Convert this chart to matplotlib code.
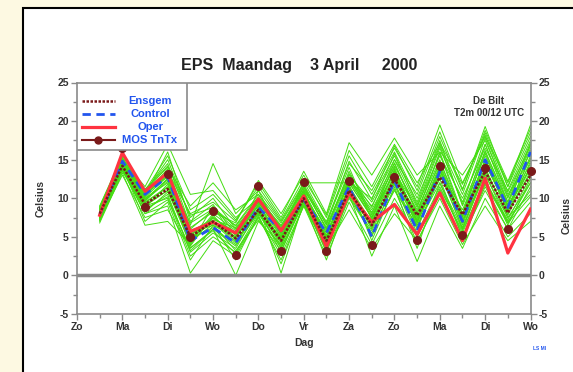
import matplotlib
matplotlib.use("Agg")
import matplotlib.pyplot as plt
from matplotlib.patches import Rectangle
from matplotlib.lines import Line2D

# time in days (12h steps)
t = [0.5, 1.0, 1.5, 2.0, 2.5, 3.0, 3.5, 4.0, 4.5, 5.0,
     5.5, 6.0, 6.5, 7.0, 7.5, 8.0, 8.5, 9.0, 9.5, 10.0]

day_labels = ["Zo", "Ma", "Di", "Wo", "Do", "Vr", "Za", "Zo", "Ma", "Di", "Wo"]

oper = [7.8, 15.9, 10.9, 13.3, 5.7, 6.9, 5.5, 9.9, 5.8, 10.3,
        3.7, 10.7, 6.9, 9.2, 5.3, 10.7, 4.5, 12.6, 2.9, 8.6]
control = [7.8, 14.8, 10.5, 12.8, 4.5, 6.2, 4.2, 8.8, 5.8, 9.8,
           5.5, 11.5, 5.0, 12.3, 5.8, 13.5, 7.0, 15.0, 8.8, 16.0]
ensgem = [8.0, 14.2, 9.2, 11.2, 5.0, 7.0, 4.8, 8.5, 4.5, 10.0,
          4.5, 11.0, 6.5, 12.5, 7.8, 12.7, 7.9, 13.5, 8.1, 13.0]

mos_t = [1.0, 1.5, 2.0, 2.5, 3.0, 3.5, 4.0, 4.5, 5.0, 5.5,
         6.0, 6.5, 7.0, 7.5, 8.0, 8.5, 9.0, 9.5, 10.0]
mos = [16.5, 8.9, 13.2, 5.0, 8.4, 2.7, 11.6, 3.2, 12.1, 3.2,
       12.2, 3.9, 12.8, 4.6, 14.2, 5.3, 13.9, 6.0, 13.5]

# ensemble members (read approximately)
members = [
    [7.5, 14.5, 10.5, 13.0, 5.5, 6.5, 5.0, 9.5, 5.5, 10.5, 4.0, 11.0, 7.0, 12.0, 6.0, 13.0, 7.5, 15.0, 9.0, 14.0],
    [8.0, 15.0, 11.5, 17.0, 10.5, 11.0, 7.5, 10.0, 6.5, 11.0, 5.0, 12.5, 9.0, 14.5, 8.0, 16.0, 8.0, 17.0, 10.0, 16.5],
    [7.0, 13.5, 9.0, 10.0, 2.5, 5.0, 3.0, 8.0, 3.5, 9.5, 3.0, 10.0, 5.5, 11.0, 6.5, 12.5, 5.0, 12.0, 7.0, 11.0],
    [8.5, 14.0, 8.0, 9.0, 0.3, 4.5, 2.5, 7.5, 2.0, 9.0, 2.5, 9.5, 4.0, 10.0, 5.0, 11.0, 4.5, 11.5, 6.0, 9.5],
    [9.0, 15.5, 11.0, 14.5, 6.5, 14.5, 8.0, 11.0, 7.0, 12.0, 12.0, 12.0, 10.0, 15.5, 9.5, 17.5, 9.0, 16.0, 9.5, 17.0],
    [7.2, 13.0, 7.5, 8.5, 3.5, 6.0, 0.0, 7.0, 4.0, 10.0, 4.5, 11.5, 6.0, 13.0, 7.0, 14.0, 6.5, 14.5, 8.5, 15.5],
    [8.2, 14.8, 10.0, 12.0, 4.5, 7.5, 5.5, 9.0, 0.3, 9.5, 2.0, 10.5, 2.5, 9.0, 1.8, 9.0, 3.5, 10.0, 5.0, 8.0],
    [7.8, 14.2, 9.5, 11.5, 6.0, 8.5, 6.5, 10.5, 6.0, 11.5, 6.0, 13.5, 8.0, 15.0, 10.5, 18.0, 11.0, 19.3, 11.5, 19.5],
    [6.8, 13.3, 6.5, 7.0, 4.0, 9.0, 4.5, 8.0, 5.0, 10.5, 5.5, 12.0, 7.5, 13.5, 8.5, 15.0, 7.0, 13.0, 7.5, 12.0],
    [8.8, 15.2, 10.8, 15.0, 7.5, 10.0, 6.0, 9.5, 5.5, 11.0, 7.0, 14.5, 11.0, 16.5, 11.5, 19.5, 12.0, 18.0, 12.0, 18.5],
    [7.6, 14.0, 9.8, 12.5, 5.0, 6.8, 4.2, 8.5, 4.8, 10.2, 3.5, 11.2, 5.0, 12.5, 6.5, 12.0, 6.0, 13.5, 8.0, 13.5],
    [8.4, 14.6, 10.2, 13.5, 8.0, 9.5, 7.0, 12.0, 7.5, 13.5, 8.0, 17.2, 13.0, 17.8, 13.0, 16.0, 13.0, 17.5, 10.5, 15.0],
    [7.4, 13.8, 8.5, 10.5, 3.0, 5.5, 3.5, 8.5, 3.0, 9.8, 5.0, 10.5, 6.5, 12.0, 5.5, 11.5, 5.5, 12.5, 6.5, 12.5],
    [8.6, 14.4, 9.0, 11.0, 5.8, 7.0, 5.0, 9.2, 4.5, 10.0, 4.0, 12.5, 8.5, 14.0, 7.0, 13.5, 8.5, 15.5, 9.0, 14.5],
    [7.9, 15.0, 10.5, 12.8, 4.2, 8.0, 5.8, 10.0, 5.0, 10.8, 5.5, 11.0, 7.0, 13.0, 8.0, 14.5, 7.0, 14.0, 7.5, 10.5],
    [8.1, 14.1, 7.0, 9.5, 2.0, 6.5, 2.0, 7.8, 1.5, 9.2, 3.5, 8.5, 3.5, 8.0, 4.5, 10.0, 4.0, 9.0, 4.5, 7.0],
    [7.7, 14.3, 11.2, 14.0, 9.0, 12.0, 8.5, 10.5, 6.8, 11.8, 6.5, 13.0, 9.5, 15.0, 9.0, 15.5, 10.0, 16.5, 11.0, 17.5],
    [8.3, 13.6, 8.2, 10.8, 4.8, 6.2, 4.0, 8.8, 3.8, 10.5, 3.0, 11.8, 4.5, 11.5, 3.5, 12.0, 5.0, 11.0, 6.0, 11.5],
    [7.3, 14.7, 9.7, 12.2, 5.3, 7.2, 6.2, 9.8, 5.8, 11.2, 6.2, 12.8, 7.8, 14.2, 8.8, 16.5, 9.5, 17.0, 9.5, 16.0],
    [8.7, 14.9, 10.3, 16.0, 7.0, 9.2, 5.2, 8.2, 4.2, 9.6, 4.8, 10.8, 6.2, 12.8, 7.2, 13.8, 6.8, 15.0, 8.2, 14.8],
    [7.1, 13.9, 8.8, 11.8, 3.8, 7.8, 4.6, 11.0, 5.2, 12.2, 6.8, 14.0, 7.2, 13.8, 6.2, 13.0, 7.8, 14.8, 8.8, 13.8],
    [8.9, 15.3, 10.6, 13.8, 6.2, 8.2, 6.8, 12.3, 8.0, 13.0, 7.5, 15.5, 10.5, 16.0, 10.0, 17.0, 10.5, 18.5, 11.5, 18.0],
    [7.5, 14.0, 9.4, 11.4, 4.4, 6.6, 3.2, 7.2, 3.2, 9.4, 4.2, 10.2, 5.8, 11.8, 5.0, 11.2, 5.8, 12.2, 7.2, 12.8],
    [8.0, 14.5, 9.9, 12.4, 5.6, 7.4, 5.6, 9.4, 5.4, 10.6, 5.2, 12.2, 8.2, 13.2, 7.6, 14.8, 8.0, 15.8, 8.8, 15.2],
    [7.6, 14.6, 10.8, 14.2, 7.8, 8.8, 6.4, 10.2, 6.2, 11.4, 6.0, 13.2, 8.8, 15.8, 9.2, 16.8, 9.2, 17.8, 10.2, 17.2],
    [8.2, 13.9, 8.6, 10.2, 3.2, 6.0, 3.8, 8.2, 3.6, 9.6, 3.8, 10.6, 5.2, 11.2, 4.2, 10.6, 4.8, 11.8, 6.8, 10.2],
    [7.9, 14.3, 9.6, 12.6, 6.8, 8.6, 6.0, 9.6, 6.4, 11.6, 6.6, 14.8, 9.8, 16.8, 11.0, 18.6, 11.2, 18.8, 12.2, 19.0],
    [8.4, 15.1, 10.4, 13.2, 4.8, 7.0, 4.4, 8.6, 4.4, 10.4, 5.8, 12.6, 7.4, 14.6, 8.2, 15.8, 7.6, 16.2, 9.2, 16.2],
    [7.2, 13.7, 8.0, 9.8, 3.6, 5.8, 2.8, 7.6, 2.6, 9.0, 4.0, 11.4, 6.6, 12.4, 6.8, 13.2, 6.2, 13.8, 7.8, 14.2],
    [8.6, 14.7, 11.0, 15.5, 8.5, 10.5, 7.2, 11.5, 7.2, 12.5, 7.8, 16.2, 11.5, 17.0, 12.0, 17.2, 11.8, 18.2, 10.8, 16.8],
    [7.4, 14.1, 9.2, 11.0, 4.0, 7.6, 5.2, 9.0, 4.6, 10.8, 4.6, 11.6, 6.8, 13.6, 7.4, 14.2, 7.2, 14.6, 8.4, 13.2],
    [8.0, 14.9, 10.1, 12.9, 5.2, 7.0, 4.8, 9.2, 5.0, 10.4, 5.0, 12.0, 7.6, 13.4, 6.8, 13.6, 6.0, 13.2, 6.8, 12.0],
]

green = "#44dd11"
brown = "#7a1a1a"
blue = "#2255ee"
red = "#ff3340"
grey = "#8a8a8a"
txt = "#333333"

plt.rcParams['font.family'] = ['Liberation Sans', 'DejaVu Sans']
plt.rcParams['axes.unicode_minus'] = False

fig = plt.figure(figsize=(5.73, 3.72), dpi=100, facecolor="#fdf9e2")
# white panel with black frame, behind the axes
panel = Rectangle((23 / 573, -0.05), 1.0, (372 - 8) / 372 + 0.05,
                  transform=fig.transFigure, facecolor="white",
                  edgecolor="black", linewidth=1.5, zorder=-10)
fig.add_artist(panel)

ax = fig.add_axes([77 / 573, 58 / 372, 453.5 / 573, 231.5 / 372])
ax.set_facecolor("white")

for m in members:
    ax.plot(t, m, color=green, lw=0.7, zorder=2)
ax.plot(t, control, color=blue, lw=2, ls=(0, (3, 2)), zorder=4)
ax.plot(t, oper, color=red, lw=2.3, zorder=5)
ax.plot(t, ensgem, color=brown, lw=1.8, ls=(0, (1, 0.6)), zorder=6)
ax.plot(mos_t, mos, ls="none", marker="o", ms=5.5, color=brown, zorder=7, clip_on=False)

ax.axhline(0, color=grey, lw=2.5, zorder=3)

ax.set_xlim(0, 10)
ax.set_ylim(-5, 25)
ax.set_xticks(range(11))
ax.set_xticklabels(day_labels)
ax.set_xticks([i + 0.5 for i in range(10)], minor=True)
ax.set_yticks(range(-5, 26, 5))
ax.set_yticks([v + 2.5 for v in range(-5, 25, 5)], minor=True)
ax.tick_params(axis="both", which="both", colors=grey, labelcolor=txt, labelsize=7.5, width=1)
ax.tick_params(axis="x", which="major", length=4, pad=2)
ax.tick_params(axis="x", which="minor", length=3)
ax.tick_params(axis="y", which="major", length=4, pad=2, right=True, labelright=True)
ax.tick_params(axis="y", which="minor", length=3, right=True)
for lab in ax.get_xticklabels() + ax.get_yticklabels():
    lab.set_fontweight("bold")
for s in ax.spines.values():
    s.set_color(grey)
    s.set_linewidth(1.2)

ax.set_xlabel("Dag", fontsize=7.5, color=txt, fontweight="bold", labelpad=4)
ax.set_ylabel("Celsius", fontsize=7.5, color=txt, fontweight="bold", labelpad=8)
fig.text(562 / 573, 0.42, "Celsius", rotation=90, fontsize=7.5, color=txt,
         fontweight="bold", ha="left", va="center")

fig.text(0.522, 0.823, "EPS  Maandag    3 April     2000", fontsize=11.5,
         fontweight="bold", color="#222222", ha="center", va="center")
ax.text(0.985, 0.94, "De Bilt\nT2m 00/12 UTC", transform=ax.transAxes,
        fontsize=7, color=txt, fontweight="bold", ha="right", va="top",
        multialignment="center", linespacing=1.15)
fig.text(540 / 573, (372 - 348) / 372, "LS MI", fontsize=3.5, color=blue,
         fontweight="bold", ha="center", va="center")

# legend box
ax.add_patch(Rectangle((0, 0.708), 0.243, 0.292, transform=ax.transAxes,
                       facecolor="white", edgecolor=grey, lw=1.2, zorder=8))
leg_items = [
    ("Ensgem", dict(color=brown, lw=1.8, ls=(0, (1, 0.6)))),
    ("Control", dict(color=blue, lw=2, ls=(0, (3, 2)))),
    ("Oper", dict(color=red, lw=2.3)),
    ("MOS TnTx", dict(color=brown, lw=1.5, marker="o", ms=5, markevery=[1])),
]
rows = [0.920, 0.866, 0.808, 0.752]
for (name, style), yy in zip(leg_items, rows):
    ax.add_line(Line2D([0.011, 0.047, 0.084], [yy, yy, yy], transform=ax.transAxes,
                       zorder=9, **style))
    ax.text(0.161, yy, name, transform=ax.transAxes, fontsize=8, color=blue,
            fontweight="bold", ha="center", va="center", zorder=9)

fig.savefig("out.png", dpi=100, facecolor=fig.get_facecolor())
